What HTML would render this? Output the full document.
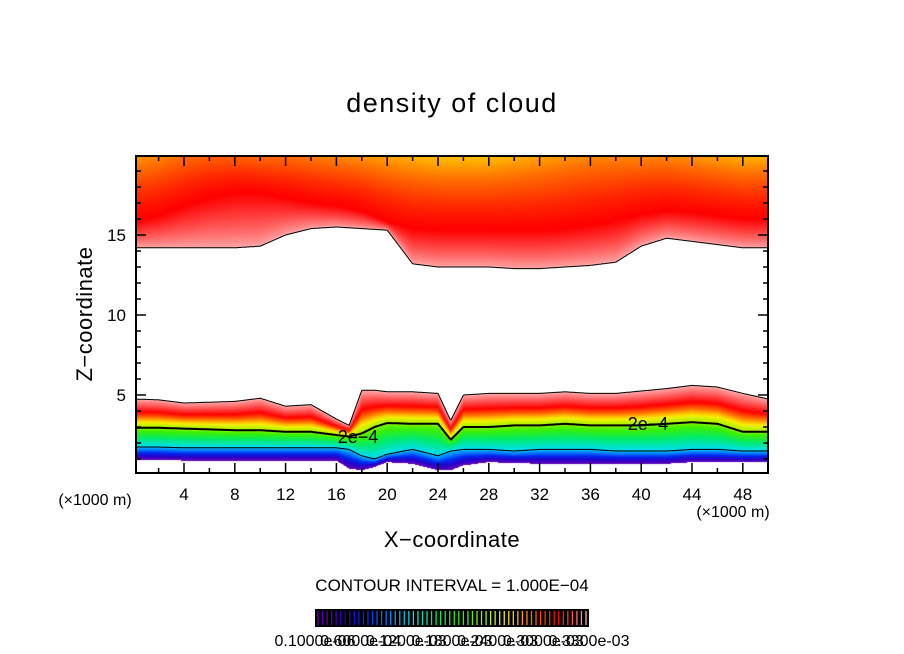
<!DOCTYPE html>
<html><head><meta charset="utf-8">
<style>
html,body{margin:0;padding:0;background:#fff;}
#wrap{position:relative;width:904px;height:654px;overflow:hidden;font-family:"Liberation Sans",sans-serif;}
canvas{position:absolute;left:136px;top:156px;}
svg{position:absolute;left:0;top:0;}
</style></head>
<body>
<div id="wrap">
<canvas id="cv" width="632" height="317"></canvas>
<svg id="sv" width="904" height="654"></svg>
</div>
<script>
// ---- data ----
const lowerX   = [0,2,4,6,8,10,12,14,16,17,18,19,20,22,24,25,26,28,30,32,34,36,38,40,42,44,46,48,50];
const lowerTop = [4.75,4.7,4.5,4.55,4.6,4.8,4.3,4.4,3.5,3.1,5.3,5.3,5.2,5.2,5.1,3.4,5.0,5.1,5.1,5.1,5.2,5.1,5.1,5.25,5.4,5.6,5.5,5.1,4.75];
const lower2e4 = [2.95,2.95,2.9,2.85,2.8,2.8,2.7,2.7,2.5,2.4,2.6,3.0,3.25,3.2,3.2,2.2,3.0,3.0,3.1,3.1,3.2,3.1,3.1,3.1,3.2,3.3,3.2,2.7,2.7];
const lowerBlue= [1.75,1.75,1.7,1.7,1.7,1.7,1.7,1.7,1.7,1.6,1.2,1.0,1.3,1.6,1.2,1.5,1.6,1.6,1.5,1.6,1.6,1.6,1.5,1.5,1.5,1.6,1.6,1.5,1.5];
const lowerBase= [0.95,0.95,0.9,0.9,0.9,0.9,0.9,0.9,0.9,0.4,0.3,0.5,0.8,0.7,0.3,0.3,0.6,0.8,0.75,0.7,0.7,0.7,0.7,0.7,0.7,0.8,0.8,0.8,0.8];
const upperX   = [0,2,4,6,8,10,12,14,16,18,20,22,24,26,28,30,32,34,36,38,40,42,44,46,48,50];
const upperBot = [14.2,14.2,14.2,14.2,14.2,14.3,15.0,15.4,15.5,15.4,15.3,13.2,13.0,13.0,13.0,12.9,12.9,13.0,13.1,13.3,14.3,14.8,14.6,14.4,14.2,14.2];
const upperRidge=[15.8,16.2,16.8,17.3,17.6,17.6,17.3,17.0,16.8,16.5,15.8,15.4,15.3,15.3,15.3,15.3,15.3,15.4,15.6,15.9,16.3,16.5,16.4,16.2,16.0,16.0];
const upperTopLevel=[0.77,0.78,0.80,0.81,0.81,0.80,0.80,0.79,0.78,0.77,0.76,0.75,0.74,0.74,0.74,0.75,0.76,0.77,0.78,0.78,0.78,0.78,0.77,0.76,0.75,0.75];
const xTicks = [4,8,12,16,20,24,28,32,36,40,44,48];
const yTicks = [5,10,15];
const cbLabels = ["0.1000e-06","0.6000e-04","0.1200e-03","0.1800e-03","0.2400e-03","0.3000e-03","0.3300e-03"];

// ---- axes ----
const X = v => 184 + (v-4)*12.7;
const Y = v => 395 - (v-5)*16;
const Xinv = p => 4 + (p-184)/12.7;
const Yinv = p => 5 - (p-395)/16;
const L=136,R=768,T=156,B=473;

function interp(xs,ys,x){
  if(x<=xs[0]) return ys[0];
  for(let i=1;i<xs.length;i++){ if(x<=xs[i]){const f=(x-xs[i-1])/(xs[i]-xs[i-1]);return ys[i-1]+f*(ys[i]-ys[i-1]);} }
  return ys[ys.length-1];
}
const stops=[[0,[112,0,176]],[0.1,[40,0,200]],[0.18,[0,40,240]],[0.26,[0,130,255]],[0.35,[0,225,225]],[0.45,[0,235,110]],[0.55,[60,240,0]],[0.62,[170,240,0]],[0.7,[245,240,0]],[0.75,[255,180,0]],[0.8,[255,110,0]],[0.86,[255,40,0]],[0.9,[255,0,0]],[1.0,[255,170,170]]];
function cmap(t){
  t=Math.max(0,Math.min(1,t));
  for(let i=1;i<stops.length;i++){ if(t<=stops[i][0]){const a=stops[i-1],b=stops[i];const f=(t-a[0])/(b[0]-a[0]);return [0,1,2].map(k=>Math.round(a[1][k]+f*(b[1][k]-a[1][k])));} }
  return stops[stops.length-1][1];
}
// ---- raster field ----
const cv=document.getElementById('cv'),ctx=cv.getContext('2d');
const img=ctx.createImageData(632,317);
for(let px=0;px<632;px++){
  const xk=Xinv(L+px+0.5);
  const ub=interp(upperX,upperBot,xk), ur=interp(upperX,upperRidge,xk), ut=interp(upperX,upperTopLevel,xk);
  const lt=interp(lowerX,lowerTop,xk), l2=interp(lowerX,lower2e4,xk), lb=interp(lowerX,lowerBlue,xk), lba=interp(lowerX,lowerBase,xk);
  for(let py=0;py<317;py++){
    const h=Yinv(T+py+0.5); let c=null;
    if(h>=ub){
      let t;
      if(h<ur) t=1.0-0.1*Math.pow((h-ub)/(ur-ub),0.8);
      else t=0.9-(0.9-ut)*Math.pow((h-ur)/(19.94-ur),1.2);
      c=cmap(t);
    } else if(h<=lt && h>=lba){
      let t;
      if(h<lb) t=0.02+0.3*(h-lba)/(lb-lba);
      else if(h<l2) t=0.33+0.27*(h-lb)/(l2-lb);
      else { const m=l2+(lt-l2)*0.55; if(h<m) t=0.6+0.3*(h-l2)/(m-l2); else t=0.9+0.1*(h-m)/(lt-m); }
      c=cmap(t);
    }
    const o=(py*632+px)*4;
    if(c){img.data[o]=c[0];img.data[o+1]=c[1];img.data[o+2]=c[2];} else {img.data[o]=255;img.data[o+1]=255;img.data[o+2]=255;}
    img.data[o+3]=255;
  }
}
ctx.putImageData(img,0,0);

// ---- svg overlay ----
const NS='http://www.w3.org/2000/svg', sv=document.getElementById('sv');
function el(tag,attrs,parent){const e=document.createElementNS(NS,tag);for(const k in attrs)e.setAttribute(k,attrs[k]);(parent||sv).appendChild(e);return e;}
function txt(s,x,y,size,anchor,name,extra){const e=el('text',Object.assign({x:x,y:y,'font-size':size,'text-anchor':anchor||'middle',fill:'#000','font-family':'Liberation Sans, sans-serif'},extra||{}));e.textContent=s;


return e;}

function contour(xs,ys,w,name){
  let d='';
  for(let p=L;p<=R;p++){const h=interp(xs,ys,Xinv(p));d+=(p===L?'M':'L')+p+','+Y(h).toFixed(1);}
  const e=el('path',{d:d,fill:'none',stroke:'#000','stroke-width':w});
  
  
}
contour(upperX,upperBot,1,'upper-cloud-edge-contour');
contour(lowerX,lowerTop,1,'lower-cloud-top-contour');
contour(lowerX,lower2e4,2,'contour-2e-4');
contour(lowerX,lowerBlue,1,'lower-cloud-blue-contour');
// contour labels
[[358,443],[648,430]].forEach(p=>{
  txt('2e−4',p[0],p[1],18,'middle','contour-label-2e-4');
});

// frame
const fr=el('rect',{x:L,y:T,width:R-L,height:B-T,fill:'none',stroke:'#000','stroke-width':2});


// ticks
const tg=el('g',{stroke:'#000','stroke-width':1.5});


for(let v=2;v<=50;v+=2){const major=v%4===0;const len=major?10:5;const x=X(v);if(x>R)continue;
  el('line',{x1:x,y1:B,x2:x,y2:B-len},tg);el('line',{x1:x,y1:T,x2:x,y2:T+len},tg);}
for(let v=1;v<=19;v++){const major=v%5===0;const len=major?10:5;const y=Y(v);
  el('line',{x1:L,y1:y,x2:L+len,y2:y},tg);el('line',{x1:R,y1:y,x2:R-len,y2:y},tg);}
xTicks.forEach(v=>txt(String(v),X(v),500,17,'middle','x-tick-label'));
yTicks.forEach(v=>txt(String(v),126,Y(v)+6,17,'end','y-tick-label'));

txt('density of cloud',452,112,27,'middle','chart-title',{'letter-spacing':'1.5'});
txt('X−coordinate',452,547,22,'middle','x-axis-title',{'letter-spacing':'0.5'});
txt('Z−coordinate',0,0,22,'middle','y-axis-title',{transform:'translate(92,314) rotate(-90)','letter-spacing':'0.5'});
txt('(×1000 m)',95,505,16,'middle','x-unit-left');
txt('(×1000 m)',733,517,16,'middle','x-unit-right');
txt('CONTOUR INTERVAL = 1.000E−04',452,591,17,'middle','contour-interval-note');

// colorbar
const cbg=el('g',{});


el('rect',{x:315,y:609,width:274,height:18,fill:'#000'},cbg);
const N=60;
for(let i=0;i<N;i++){const c=cmap(i/(N-1));const x=318+i*(268/(N-1));
  el('line',{x1:x,y1:611,x2:x,y2:625,stroke:'rgb('+c.join(',')+')','stroke-width':1.3},cbg);}
cbLabels.forEach((s,i)=>{const x=315+i*(274/(cbLabels.length-1));txt(s,x,646,16,'middle','colorbar-label');});
</script>
</body></html>
